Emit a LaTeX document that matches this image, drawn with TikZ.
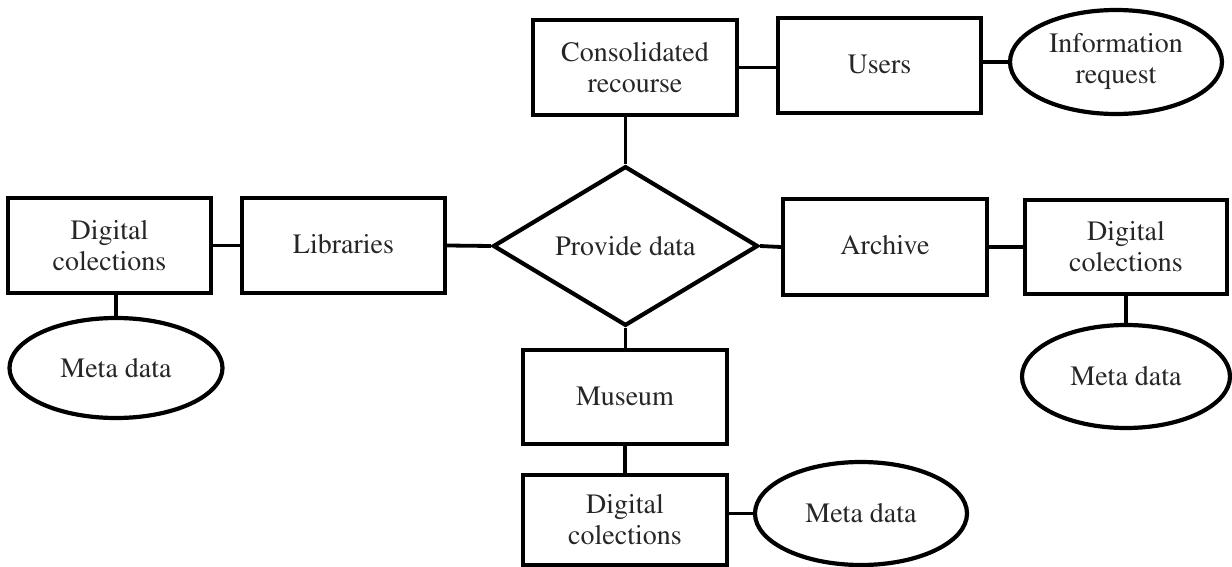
\documentclass[tikz,border=0pt]{standalone}
\usepackage[T1]{fontenc}
\usepackage{times}
\usetikzlibrary{shapes.geometric}
\begin{document}
\begin{tikzpicture}[x=0.5pt,y=-0.5pt,
  lbl/.style={font=\fontsize{14}{15.5}\selectfont, align=center, text=black!85},
  box/.style={lbl, draw, line width=2.1pt, rectangle, inner sep=0pt},
  oval/.style={lbl, draw, line width=2.1pt, ellipse, inner sep=0pt},
  decide/.style={lbl, draw, line width=2.1pt, diamond, inner sep=0pt},
  link/.style={line width=1.9pt}]
\useasboundingbox (0,0) rectangle (1232,567);
% top row
\node[box, minimum width=102pt, minimum height=47.5pt] (cons) at (635,67.5) {Consolidated\\recourse};
\node[box, minimum width=101.5pt, minimum height=47.5pt] (users) at (879.5,65.5) {\raisebox{1pt}{Users}};
\node[oval, minimum width=106pt, minimum height=52pt] (info) at (1116,62) {Information\\request};
% middle row
\node[box, minimum width=101.5pt, minimum height=47.5pt] (dl) at (109.5,245.5) {Digital\\colections};
\node[box, minimum width=101.5pt, minimum height=47.5pt] (lib) at (343.5,245.5) {\raisebox{1.5pt}{Libraries}};
\node[decide, minimum width=132.5pt, minimum height=74.5pt] (pd) at (625.5,246) {Provide data};
\node[box, minimum width=102pt, minimum height=48pt] (arch) at (885,247) {\raisebox{2pt}{Archive}};
\node[box, minimum width=101pt, minimum height=47pt] (dr) at (1126,247) {Digital\\colections};
% meta data ovals
\node[oval, minimum width=106.5pt, minimum height=50pt] (ml) at (116,368) {Meta data};
\node[oval, minimum width=104pt, minimum height=51.5pt] (mr) at (1126,376.5) {Meta data};
% bottom column
\node[box, minimum width=102pt, minimum height=47pt] (mus) at (625,397) {Museum};
\node[box, minimum width=102pt, minimum height=45pt] (db) at (625,520) {Digital\\colections};
\node[oval, minimum width=106pt, minimum height=51.5pt] (mb) at (861,513.5) {Meta data};
% connectors
\draw[link] (cons.east) -- (cons.east -| users.west);
\draw[link] (info.west -| users.east) -- (info.west);
\draw[link] (pd.north |- cons.south) -- (pd.north);
\draw[link] (dl.east) -- (lib.west);
\draw[link] (lib.east) -- (pd.west);
\draw[link] (pd.east) -- (arch.west);
\draw[link] (arch.east) -- (arch.east -| dr.west);
\draw[link] (ml.north |- dl.south) -- (ml.north);
\draw[link] (mr.north |- dr.south) -- (mr.north);
\draw[link] (pd.south) -- (pd.south |- mus.north);
\draw[link] (mus.south) -- (db.north);
\draw[link] (db.east |- mb.west) -- (mb.west);
\end{tikzpicture}
\end{document}
